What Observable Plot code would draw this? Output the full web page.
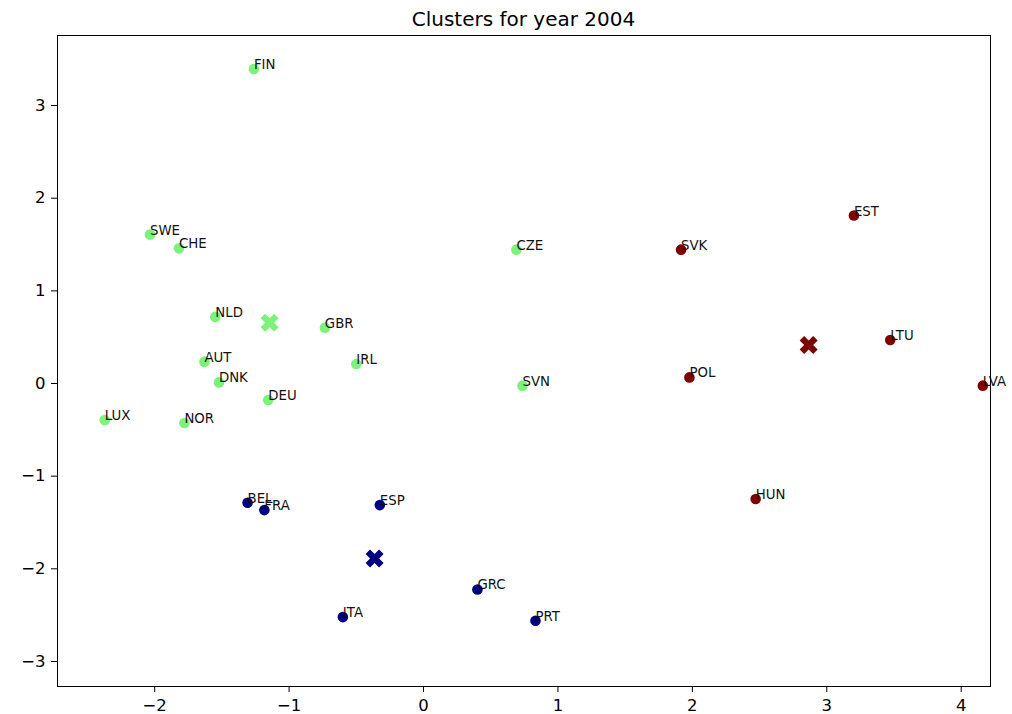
<!DOCTYPE html>
<html>
<head>
<meta charset="utf-8">
<script src="https://cdn.jsdelivr.net/npm/d3@7"></script>
<script src="https://cdn.jsdelivr.net/npm/@observablehq/plot@0.6"></script>
<style>
  body { margin: 0; background: #fff; font-family: "DejaVu Sans", sans-serif; }
  #wrap { position: relative; width: 1012px; height: 714px; }
  #title { position: absolute; left: 57px; width: 933px; top: 9px; text-align: center;
           font-size: 20px; line-height: 20px; color: #000; }
  #chart { position: absolute; left: 0; top: 0; }
</style>
</head>
<body>
<div id="wrap">
  <div id="chart"></div>
  <div id="title">Clusters for year 2004</div>
</div>
<script>
const countries = ["FIN","SWE","CHE","NLD","GBR","AUT","DNK","IRL","DEU","LUX","NOR","CZE","SVN",
                   "BEL","FRA","ESP","GRC","ITA","PRT",
                   "EST","SVK","LTU","POL","LVA","HUN"];
const xValues = [-1.262,-2.035,-1.819,-1.549,-0.734,-1.630,-1.522,-0.500,-1.155,-2.372,-1.779,0.691,0.736,
                 -1.309,-1.184,-0.325,0.401,-0.600,0.833,
                 3.202,1.916,3.472,1.978,4.161,2.471];
const yValues = [3.395,1.607,1.459,0.719,0.603,0.236,0.012,0.211,-0.178,-0.394,-0.426,1.445,-0.023,
                 -1.287,-1.366,-1.312,-2.223,-2.521,-2.561,
                 1.813,1.445,0.470,0.066,-0.023,-1.247];
const clusterOf = [1,1,1,1,1,1,1,1,1,1,1,1,1,
                   0,0,0,0,0,0,
                   2,2,2,2,2,2];
const centroidX = [-0.364, -1.145, 2.865];
const centroidY = [-1.888, 0.657, 0.416];
const clusterColors = ["#000080", "#7df27a", "#800000"];
const xTicks = [-2,-1,0,1,2,3,4];
const yTicks = [-3,-2,-1,0,1,2,3];

const points = countries.map((c, i) => ({name: c, x: xValues[i], y: yValues[i], k: clusterOf[i]}));
const centroids = centroidX.map((x, i) => ({x, y: centroidY[i], k: i}));

// matplotlib filled "X" marker
const filledX = {
  draw(context, size) {
    const r = Math.sqrt(size / Math.PI);
    const u = r / 2;
    const v = [[-1,-2],[0,-1],[1,-2],[2,-1],[1,0],[2,1],[1,2],[0,1],[-1,2],[-2,1],[-1,0],[-2,-1]];
    context.moveTo(v[0][0]*u, v[0][1]*u);
    for (let i = 1; i < v.length; i++) context.lineTo(v[i][0]*u, v[i][1]*u);
    context.closePath();
  }
};

const fmt = d3.format("d");

const plot = Plot.plot({
  width: 1012,
  height: 714,
  marginTop: 35,
  marginBottom: 28,
  marginLeft: 57,
  marginRight: 22,
  style: {fontFamily: "DejaVu Sans, sans-serif", fontSize: "16.5px", color: "#000", background: "#fff"},
  x: {domain: [-2.723, 4.218], label: null},
  y: {domain: [-3.270, 3.756], label: null},
  marks: [
    Plot.axisX({ticks: xTicks, tickFormat: fmt, tickSize: 6, tickPadding: 7, label: null, fontSize: 16.5}),
    Plot.axisY({ticks: yTicks, tickFormat: fmt, tickSize: 6, tickPadding: 6, label: null, fontSize: 16.5}),
    Plot.dot(points, {x: "x", y: "y", r: 5.3, fill: d => clusterColors[d.k], stroke: null}),
    Plot.text(points, {x: "x", y: "y", text: "name", textAnchor: "start", lineAnchor: "bottom",
                       fontSize: 13.3, fill: "#111"}),
    Plot.dot(centroids, {x: "x", y: "y", r: 9, symbol: filledX, fill: d => clusterColors[d.k], stroke: null}),
    Plot.frame({stroke: "#000", strokeWidth: 1})
  ]
});
document.getElementById("chart").appendChild(plot);
</script>
</body>
</html>
